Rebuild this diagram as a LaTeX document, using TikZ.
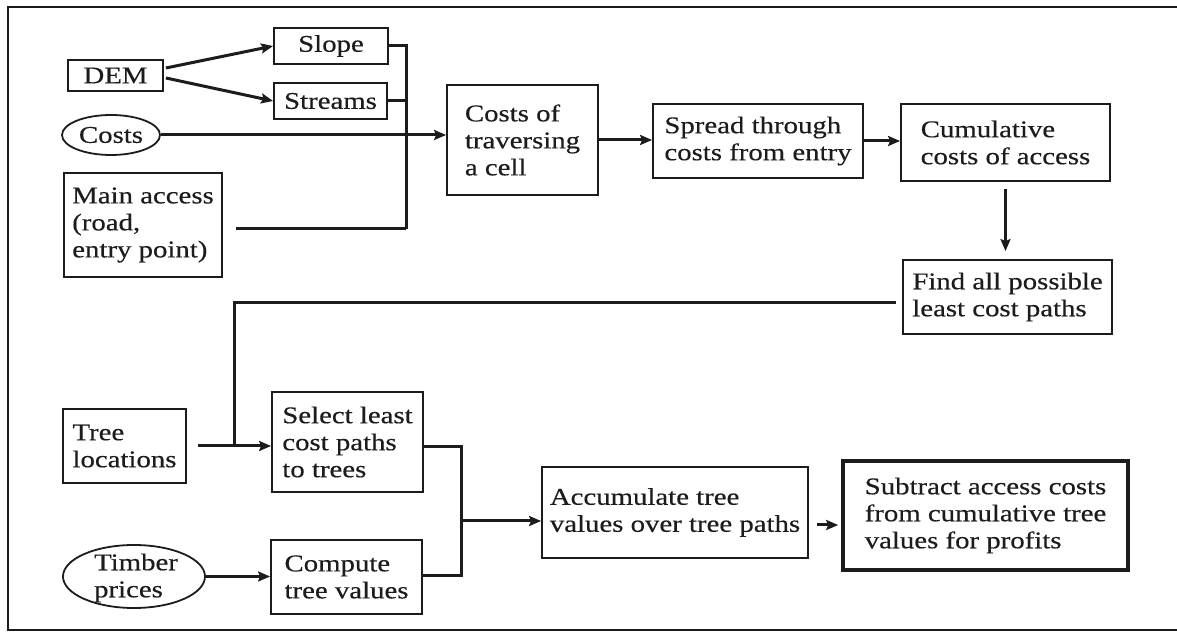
\documentclass[tikz,border=0pt]{standalone}
\usepackage{fontspec}
\setmainfont{Liberation Serif}[FakeStretch=1.2, FakeBold=0.4]
\usetikzlibrary{arrows.meta, positioning, calc, shapes.geometric}
\definecolor{ink}{HTML}{1C1C1C}

\begin{document}
\begin{tikzpicture}[x=0.5pt, y=-0.5pt,
            bx/.style={rectangle, draw=ink, line width=0.9pt, inner sep=0pt, align=left, text=ink, font=\fontsize{12}{13.5}\selectfont},
            ov/.style={ellipse, draw=ink, line width=0.9pt, inner sep=0pt},
            tx/.style={inner sep=0pt, align=left, text=ink, font=\fontsize{12}{13.5}\selectfont},
            ln/.style={draw=ink, line width=1.5pt},
            ar/.style={ln, -{Stealth[length=6pt, width=5pt, inset=1pt]}}]
            \useasboundingbox (0,0) rectangle (1177,635);
            % outer frame, open on the right
            \draw[ink, line width=0.9pt] (1177,7) -- (8,7) -- (8,630) -- (1177,630);
            % inputs
            \node[bx, minimum width=47.5pt, minimum height=15.5pt] (dem) at (115.5,75.5) {DEM};
            \node[bx, minimum width=57pt, minimum height=18pt] (slope) at (331,46) {Slope};
            \node[bx, minimum width=56.5pt, minimum height=18pt] (streams) at (330.5,101) {Streams};
            \node[ov, minimum width=49pt, minimum height=20pt] (costs) at (111,135) {};
            \node[tx] (coststx) at (costs) {Costs};
            \node[bx, minimum width=79pt, minimum height=52pt] (access) at (143,225) {Main access\\(road,\\entry point)};
            % access cost chain
            \node[bx, minimum width=75.5pt, minimum height=55pt] (trav) at (522.5,140) {Costs of\\traversing\\a cell};
            \node[bx, minimum width=105pt, minimum height=37pt] (spread) at (758,141) {Spread through\\costs from entry};
            \node[bx, minimum width=104.5pt, minimum height=38.5pt] (cumul) at (1005.5,142.5) {Cumulative\\costs of access};
            \node[bx, minimum width=104.5pt, minimum height=37pt] (find) at (1007.5,297) {Find all possible\\least cost paths};
            % tree values
            \node[bx, minimum width=61.5pt, minimum height=37pt] (tree) at (124.5,446) {Tree\\locations};
            \node[bx, minimum width=75.5pt, minimum height=50pt] (select) at (347.5,442) {Select least\\cost paths\\to trees};
            \node[ov, minimum width=71pt, minimum height=31.5pt] (timber) at (134,576.5) {};
            \node[tx] (timbertx) at (136,578) {Timber\\prices};
            \node[bx, minimum width=75.5pt, minimum height=37pt] (compute) at (346.5,577) {Compute\\tree values};
            \node[bx, minimum width=133pt, minimum height=45.5pt] (accum) at (675,512.5) {Accumulate tree\\values over tree paths};
            \node[bx, line width=1.8pt, minimum width=142.5pt, minimum height=54.5pt] (subtract) at (985.5,515.5) {Subtract access costs\\from cumulative tree\\values for profits};
            % connectors
            \coordinate (join) at (406,229);
            \coordinate (tee) at (234,446);
            \coordinate (fork) at (461,521);
            \draw[ar] ($(dem.east)+(2,-7.5)$) -- (slope.west);
            \draw[ar] ($(dem.east)+(2,2.5)$) -- (streams.west);
            \draw[ln] (slope.east) -| (join);
            \draw[ln] (streams.east) -- (streams.east -| join);
            \draw[ln] ($(access.east)+(13,4)$) -- (join);
            \draw[ar] (costs.east) -- (costs.east -| trav.west);
            \draw[ar] (trav.east) -- (trav.east -| spread.west);
            \draw[ar] (spread.east) -- (spread.east -| cumul.west);
            \draw[ar, shorten <=3.5pt, shorten >=4pt] (cumul.south) -- (cumul.south |- find.north);
            \draw[ln] ($(find.west)+(-6,6)$) -| (tee);
            \draw[ln] ($(tree.east)+(11,0)$) -- (tee);
            \draw[ar] (tee) -- (tee -| select.west);
            \draw[ar] (timber.east) -- (timber.east -| compute.west);
            \draw[ln] ($(select.east)+(0,5)$) -| (fork);
            \draw[ln] ($(compute.east)+(0,-2)$) -| (fork);
            \draw[ar] (fork) -- (fork -| accum.west);
            \draw[ar] ($(accum.east)+(8,12.5)$) -- ($(subtract.west)+(-3,9.5)$);
        \end{tikzpicture}
\end{document}
